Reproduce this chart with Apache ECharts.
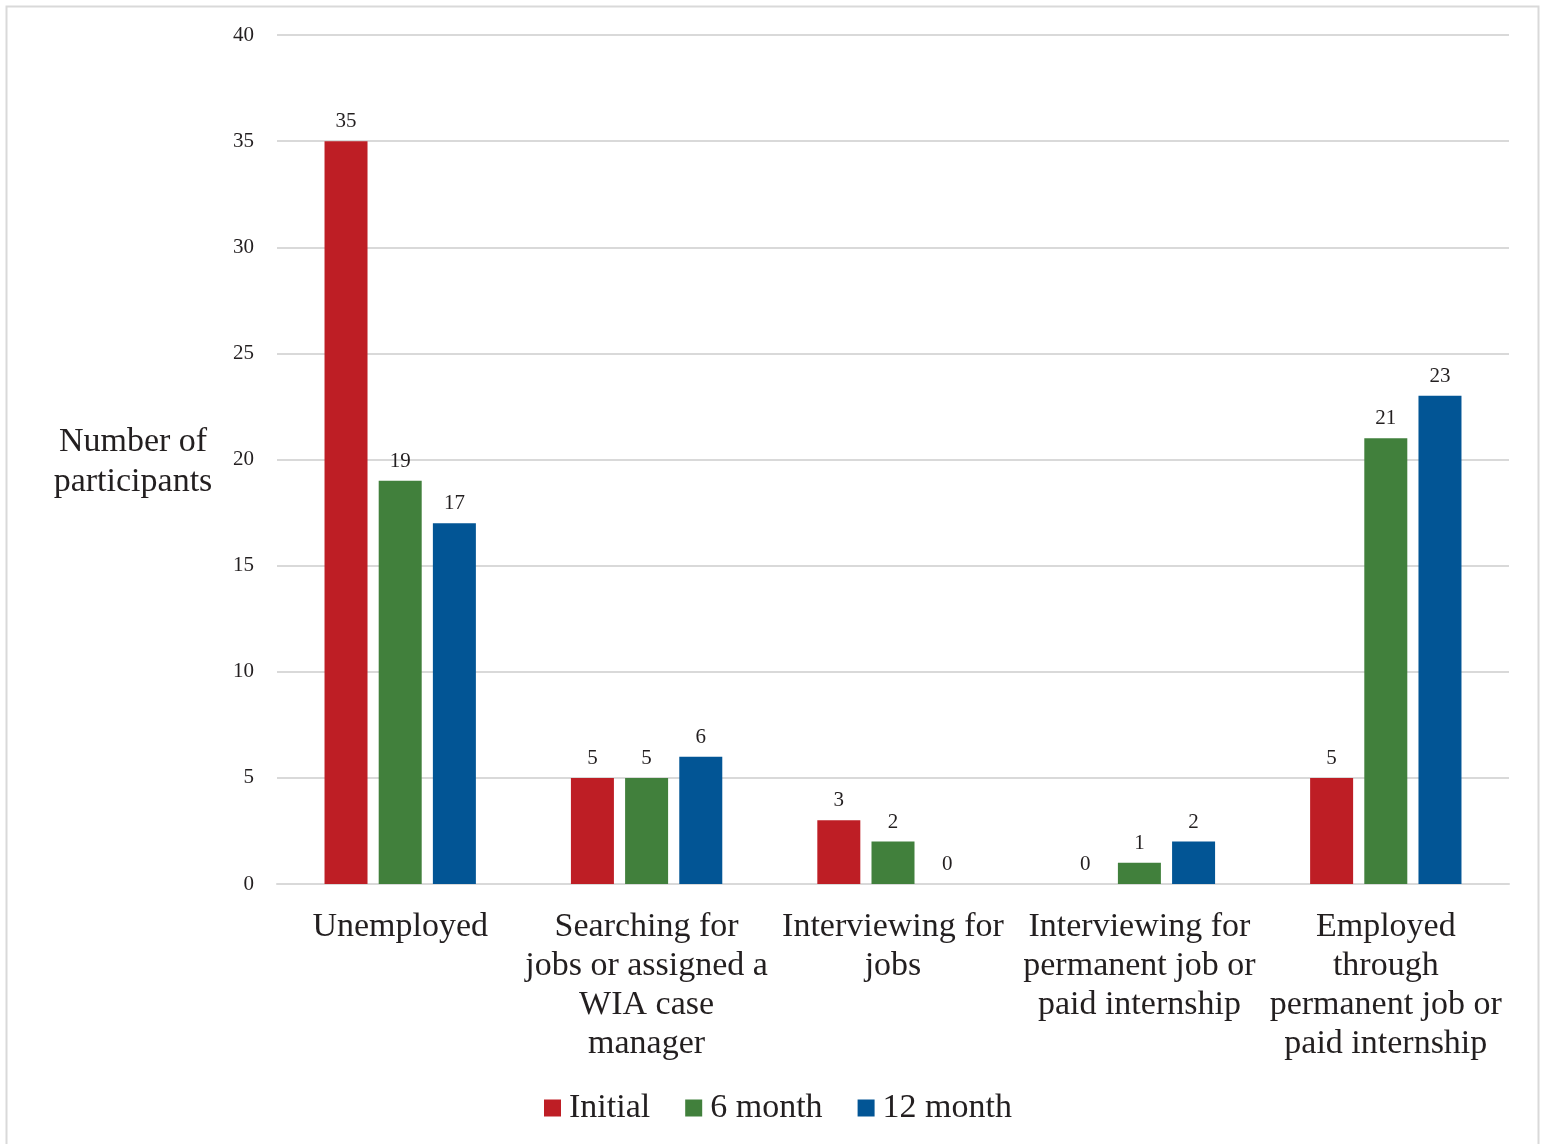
<!DOCTYPE html>
<html>
<head>
<meta charset="utf-8">
<title>Employment status of participants</title>
<script src="https://cdn.jsdelivr.net/npm/echarts@6/dist/echarts.min.js"></script>
<style>
  html, body { margin: 0; padding: 0; background: #ffffff; }
  #chart { width: 1544px; height: 1144px; }
</style>
</head>
<body>
<div id="chart"></div>
<script>
// Employment status categories (x axis)
const categories = [
  'Unemployed',
  'Searching for\njobs or assigned a\nWIA case\nmanager',
  'Interviewing for\njobs',
  'Interviewing for\npermanent job or\npaid internship',
  'Employed\nthrough\npermanent job or\npaid internship'
];

// Participant counts at each follow-up point
const initialValues = [35, 5, 3, 0, 5];
const sixMonthValues = [19, 5, 2, 1, 21];
const twelveMonthValues = [17, 6, 0, 2, 23];

// Value axis ticks
const yTicks = [0, 5, 10, 15, 20, 25, 30, 35, 40];

const FONT = '"Liberation Serif", "Times New Roman", serif';
const TEXT = '#231f20';
const GRID = '#d9d9d9';

const chart = echarts.init(document.getElementById('chart'), null, { renderer: 'canvas' });

function barSeries(name, data, color) {
  return {
    name: name,
    type: 'bar',
    data: data,
    barWidth: 43,
    barGap: '26%',
    barCategoryGap: '38%',
    itemStyle: { color: color },
    label: {
      show: true,
      position: 'top',
      distance: 9,
      color: TEXT,
      fontFamily: FONT,
      fontSize: 21
    },
    emphasis: { disabled: true }
  };
}

chart.setOption({
  animation: false,
  backgroundColor: '#ffffff',
  textStyle: { fontFamily: FONT, color: TEXT },
  graphic: [
    {
      type: 'rect',
      silent: true,
      shape: { x: 6.5, y: 6.5, width: 1532, height: 1160 },
      style: { fill: 'none', stroke: GRID, lineWidth: 2 }
    },
    {
      type: 'text',
      silent: true,
      x: 133,
      y: 422,
      style: {
        text: 'Number of\nparticipants',
        fill: TEXT,
        font: '34px ' + FONT,
        align: 'center',
        verticalAlign: 'top',
        lineHeight: 40
      }
    }
  ],
  legend: {
    data: ['Initial', '6 month', '12 month'],
    left: 539,
    top: 1086,
    icon: 'rect',
    itemWidth: 17,
    itemHeight: 17,
    itemGap: 35,
    textStyle: {
      fontFamily: FONT,
      fontSize: 34,
      color: TEXT,
      padding: [0, 0, 0, 3]
    },
    selectedMode: false
  },
  grid: {
    left: 277,
    right: 35,
    top: 35,
    bottom: 260,
    containLabel: false
  },
  xAxis: {
    type: 'category',
    data: categories,
    axisLine: { show: true, lineStyle: { color: GRID, width: 2 } },
    axisTick: { show: false },
    axisLabel: {
      interval: 0,
      margin: 24,
      color: TEXT,
      fontFamily: FONT,
      fontSize: 34,
      lineHeight: 39,
      align: 'center'
    }
  },
  yAxis: {
    type: 'value',
    min: yTicks[0],
    max: yTicks[yTicks.length - 1],
    interval: yTicks[1] - yTicks[0],
    axisLine: { show: false },
    axisTick: { show: false },
    splitLine: { show: true, lineStyle: { color: GRID, width: 2 } },
    axisLabel: {
      margin: 23,
      color: TEXT,
      fontFamily: FONT,
      fontSize: 21,
      verticalAlign: 'middle',
      lineHeight: 21,
      padding: [5, 0, 0, 0]
    }
  },
  series: [
    barSeries('Initial', initialValues, '#be1e25'),
    barSeries('6 month', sixMonthValues, '#41803c'),
    barSeries('12 month', twelveMonthValues, '#025595')
  ]
});
</script>
</body>
</html>
